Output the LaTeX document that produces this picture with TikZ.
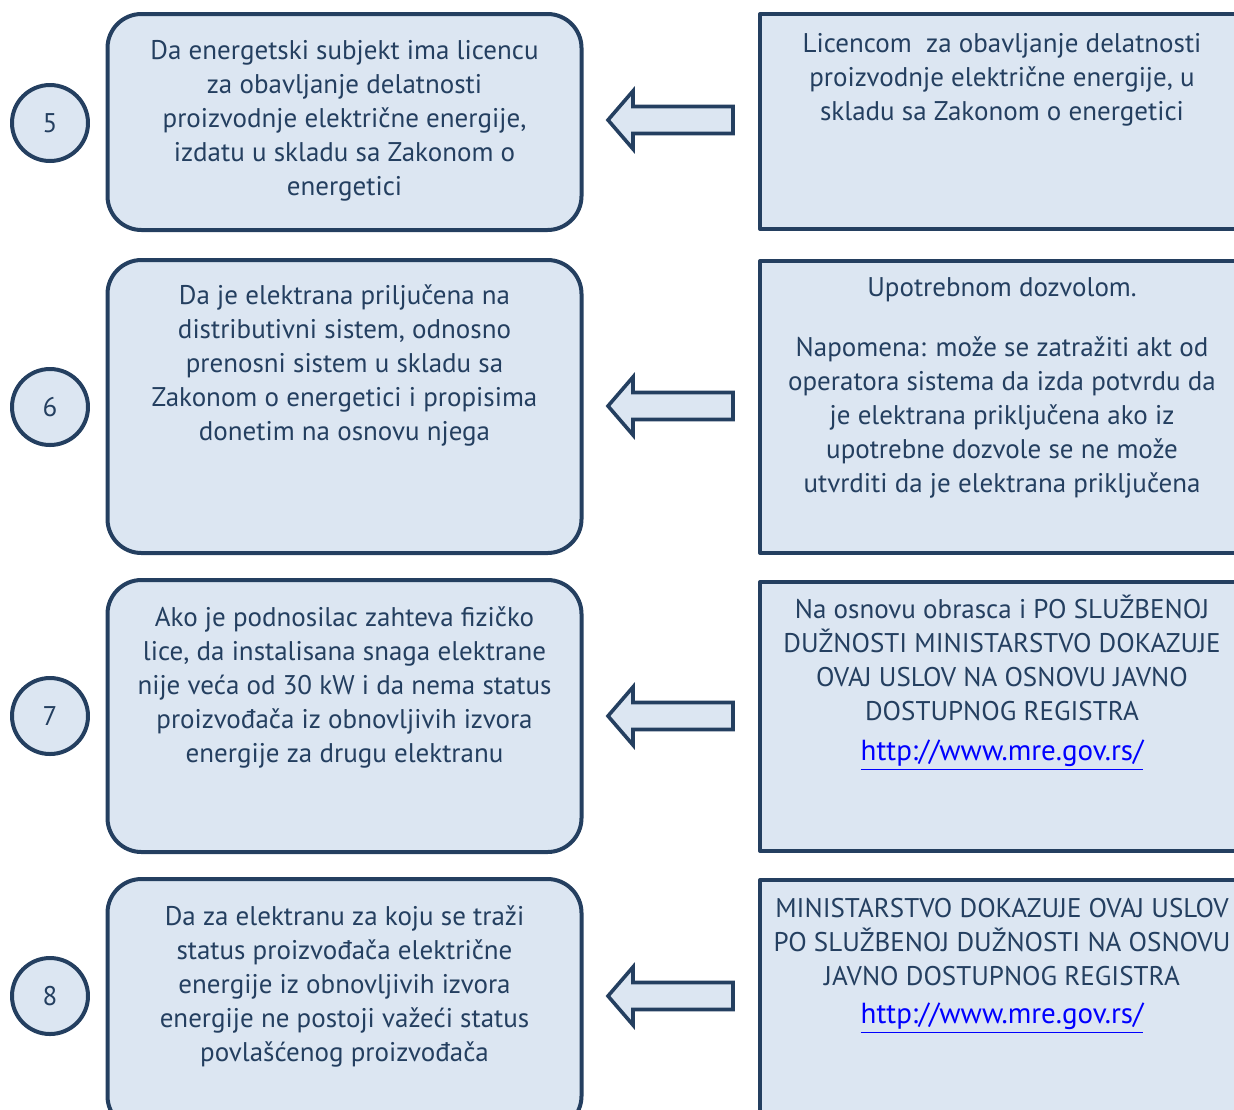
\documentclass[tikz,border=0pt]{standalone}
\usepackage{fontspec}
\setmainfont{PT Sans}
\usetikzlibrary{positioning}
\definecolor{navy}{HTML}{243F60}
\definecolor{paleblue}{HTML}{DCE6F2}
\definecolor{linkblue}{HTML}{0000FF}
\newcommand{\weblink}{{\fontsize{14.5}{17}\selectfont\textcolor{linkblue}{\underline{http://www.mre.gov.rs/}}}}
\begin{document}
\begin{tikzpicture}[x=0.5pt,y=-0.5pt,line join=round,
	lbox/.style={draw=navy,line width=2pt,fill=paleblue,rounded corners=17pt,minimum width=237pt},
	rbox/.style={draw=navy,line width=2pt,fill=paleblue,minimum width=245pt},
	numc/.style={circle,draw=navy,line width=2pt,fill=paleblue,minimum size=38pt,inner sep=0pt,text=navy,font=\fontsize{13.5}{17}\selectfont},
	txt/.style={text=navy,align=center,inner sep=0pt,font=\fontsize{13.5}{17}\selectfont},
	blockarrow/.style={draw=navy,line width=1.8pt,fill=paleblue,line join=miter}]
	\useasboundingbox (0,0) rectangle (1234,1109);
	\clip (0,0) rectangle (1234,1109);
	% numbers
	\node[numc] (c5) at (50,123) {5};
	\node[numc] (c6) at (50,407) {6};
	\node[numc] (c7) at (50,716) {7};
	\node[numc] (c8) at (50,996) {8};
	% conditions
	\node[lbox,minimum height=108pt] (l5) at (344.5,122) {};
	\node[lbox,minimum height=146.5pt] (l6) at (344.5,406.5) {};
	\node[lbox,minimum height=136pt] (l7) at (344.5,716) {};
	\node[lbox,minimum height=125.5pt] (l8) at (344.5,1004.5) {};
	\node[txt,below=14pt of l5.north] (l5t) {Da energetski subjekt ima licencu\\za obavljanje delatnosti\\proizvodnje električne energije,\\izdatu u skladu sa Zakonom o\\energetici};
	\node[txt,below=13pt of l6.north] (l6t) {Da je elektrana priljučena na\\distributivni sistem, odnosno\\prenosni sistem u skladu sa\\Zakonom o energetici i propisima\\donetim na osnovu njega};
	\node[txt,below=14pt of l7.north] (l7t) {Ako je podnosilac zahteva fizičko\\lice, da instalisana snaga elektrane\\nije veća od 30 kW i da nema status\\proizvođača iz obnovljivih izvora\\energije za drugu elektranu};
	\node[txt,below=14pt of l8.north] (l8t) {Da za elektranu za koju se traži\\status proizvođača električne\\energije iz obnovljivih izvora\\energije ne postoji važeći status\\povlašćenog proizvođača};
	% proofs
	\node[rbox,minimum height=107.5pt] (r5) at (1005,121.5) {};
	\node[rbox,minimum height=146pt] (r6) at (1005,407) {};
	\node[rbox,minimum height=134.5pt] (r7) at (1005,716.5) {};
	\node[rbox,minimum height=125pt] (r8) at (1005,1005) {};
	\node[txt,below=10.5pt of r5.north,xshift=-1.5pt] (r5t) {Licencom\ \ za obavljanje delatnosti\\proizvodnje električne energije, u\\skladu sa Zakonom o energetici};
	\node[txt,below=9pt of r6.north,xshift=-1.5pt] (r6t) {Upotrebnom dozvolom.\\[13pt]Napomena: može se zatražiti akt od\\operatora sistema da izda potvrdu da\\je elektrana priključena ako iz\\upotrebne dozvole se ne može\\utvrditi da je elektrana priključena};
	\node[txt,below=7.5pt of r7.north,xshift=-1.5pt] (r7t) {Na osnovu obrasca i PO SLUŽBENOJ\\DUŽNOSTI MINISTARSTVO DOKAZUJE\\OVAJ USLOV NA OSNOVU JAVNO\\DOSTUPNOG REGISTRA\\[3pt]\weblink};
	\node[txt,below=10pt of r8.north,xshift=-1.5pt] (r8t) {MINISTARSTVO DOKAZUJE OVAJ USLOV\\PO SLUŽBENOJ DUŽNOSTI NA OSNOVU\\JAVNO DOSTUPNOG REGISTRA\\[2pt]\weblink};
	% arrows
	\coordinate (a5) at (608,120);
	\coordinate (a6) at (608,406);
	\coordinate (a7) at (608,716);
	\coordinate (a8) at (608,996);
	\draw[blockarrow] (a5) -- ++(25,-29) -- ++(0,15.5) -- ++(100,0) -- ++(0,27) -- ++(-100,0) -- ++(0,15.5) -- cycle;
	\draw[blockarrow] (a6) -- ++(25,-29) -- ++(0,15.5) -- ++(100,0) -- ++(0,27) -- ++(-100,0) -- ++(0,15.5) -- cycle;
	\draw[blockarrow] (a7) -- ++(25,-29) -- ++(0,15.5) -- ++(100,0) -- ++(0,27) -- ++(-100,0) -- ++(0,15.5) -- cycle;
	\draw[blockarrow] (a8) -- ++(25,-29) -- ++(0,15.5) -- ++(100,0) -- ++(0,27) -- ++(-100,0) -- ++(0,15.5) -- cycle;
\end{tikzpicture}
\end{document}
